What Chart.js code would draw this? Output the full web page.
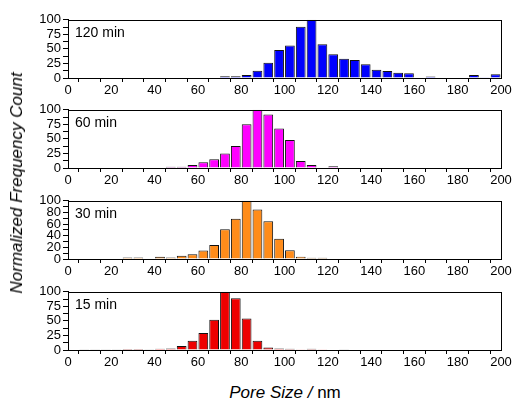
<!DOCTYPE html>
<html>
<head>
<meta charset="utf-8">
<script src="https://cdn.jsdelivr.net/npm/chart.js@4.4.0/dist/chart.umd.min.js"></script>
<style>
  html, body { margin: 0; padding: 0; background: #fff; }
  #wrap { position: relative; width: 514px; height: 402px; overflow: hidden; font-family: "Liberation Sans", Arial, sans-serif; }
  canvas { position: absolute; left: 0; }
  #ytitle { position: absolute; left: 17px; top: 183px; transform: translate(-50%, -50%) rotate(-90deg); font-size: 17px; font-style: italic; white-space: nowrap; color: #000; }
  #xtitle { position: absolute; left: 285px; top: 393px; transform: translate(-50%, -50%); font-size: 17px; white-space: nowrap; color: #000; }
</style>
</head>
<body>
<div id="wrap">
  <canvas id="c0" width="514" height="88" style="top:10px"></canvas>
  <canvas id="c1" width="514" height="88" style="top:100px"></canvas>
  <canvas id="c2" width="514" height="88" style="top:191px"></canvas>
  <canvas id="c3" width="514" height="88" style="top:282px"></canvas>
  <div id="ytitle">Normalized Frequency Count</div>
  <div id="xtitle"><i>Pore Size /</i> nm</div>
</div>
<script>
// bin centres (nm), 5 nm wide bins from 0 to 200
const binCenters = [2.5,7.5,12.5,17.5,22.5,27.5,32.5,37.5,42.5,47.5,52.5,57.5,62.5,67.5,72.5,77.5,82.5,87.5,92.5,97.5,
  102.5,107.5,112.5,117.5,122.5,127.5,132.5,137.5,142.5,147.5,152.5,157.5,162.5,167.5,172.5,177.5,182.5,187.5,192.5,197.5];

const panelLabels = ["120 min", "60 min", "30 min", "15 min"];

const counts120 = [0,0,0,0,0,1,0,0,1,1,0,1,0,0,3,3,5,12.5,26,48,
  56,88,100,58,41,33,31,23.5,14,12,9,8,1,2.5,1,0,1,5,1.5,6.5];
const counts60 = [0,0,0,0,0,0,0,0,0,2,2,5,10,15,25,38,75,100,92,68,
  48,12,5,1,3,0,0,0,0,0,0,0,0,0,0,0,0,0,0,0];
const counts30 = [0,0,0,0,1,2.7,2.5,0,3.8,2.5,5.4,8,14.6,24,51,69,100,85,65,35,
  15,4,2,2,1,0,0,0,0,0,0,0,0,0,0,0,0,0,0,0];
const counts15 = [0,0.5,0.5,0.5,0.5,1.6,1.6,0.5,2.2,2.7,7,16,29,52,100,89,54,16,4.4,2.7,
  2,1.5,2,1.5,0,0.5,0,0,0,0,0,0,0,0,0,0,0,0,0,0];

const yTickSteps = [25, 25, 20, 25];
const xTickStep = 20;

const seriesList = [counts120, counts60, counts30, counts15];
const colors = ["#0000ff", "#ff00ff", "#ff8c1a", "#ee0000"];

const FONT = "Liberation Sans, Arial, sans-serif";

const framePlugin = {
  id: 'frame',
  afterDatasetsDraw(chart, args, opts) {
    const a = chart.chartArea;
    const ctx = chart.ctx;
    ctx.save();
    ctx.strokeStyle = '#000';
    ctx.lineWidth = 1;
    ctx.strokeRect(Math.round(a.left) + 0.5, Math.round(a.top) + 0.5, Math.round(a.right - a.left), Math.round(a.bottom - a.top));
    ctx.fillStyle = '#000';
    ctx.font = '14px ' + FONT;
    ctx.textBaseline = 'middle';
    ctx.textAlign = 'left';
    ctx.fillText(opts.label, a.left + 7, a.top + 13);
    ctx.restore();
  }
};

seriesList.forEach((vals, i) => {
  const data = binCenters.map((c, k) => ({ x: c, y: vals[k] }));
  const major = yTickSteps[i];
  new Chart(document.getElementById('c' + i), {
    type: 'bar',
    data: {
      datasets: [{
        data: data,
        backgroundColor: colors[i],
        borderColor: '#111',
        borderWidth: 1,
        borderSkipped: 'start',
        barPercentage: 0.9,
        categoryPercentage: 1.0
      }]
    },
    options: {
      responsive: false,
      animation: false,
      events: [],
      layout: { padding: { top: 7, right: 13, left: 0, bottom: 0 } },
      plugins: { legend: { display: false }, tooltip: { enabled: false }, frame: { label: panelLabels[i] } },
      scales: {
        x: {
          type: 'linear',
          min: 0, max: 200,
          offset: false,
          afterFit(s) { s.height = 20; },
          border: { display: true, color: '#000', width: 1 },
          grid: { display: true, drawOnChartArea: false, drawTicks: true, tickLength: 4, color: '#000' },
          ticks: {
            stepSize: xTickStep / 2,
            autoSkip: false,
            maxRotation: 0,
            padding: 1,
            color: '#000',
            font: { family: FONT, size: 13 },
            callback: (v) => (v % xTickStep === 0 ? String(v) : '')
          }
        },
        y: {
          min: 0, max: 100,
          afterFit(s) { s.width = 68; },
          border: { display: true, color: '#000', width: 1 },
          grid: { display: true, drawOnChartArea: false, drawTicks: true, tickLength: 5, color: '#000' },
          ticks: {
            stepSize: major / 2,
            autoSkip: false,
            padding: 2,
            color: '#000',
            font: { family: FONT, size: 13 },
            callback: (v) => (v % major === 0 ? String(v) : '')
          }
        }
      }
    },
    plugins: [framePlugin]
  });
});
</script>
</body>
</html>
